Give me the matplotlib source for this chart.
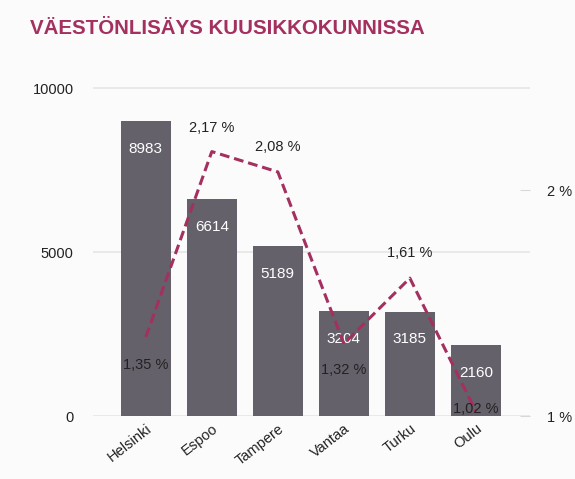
import matplotlib.pyplot as plt

plt.rcParams['font.family'] = ['Liberation Sans Narrow', 'Liberation Sans', 'DejaVu Sans']

cities = ['Helsinki', 'Espoo', 'Tampere', 'Vantaa', 'Turku', 'Oulu']
growth = [8983, 6614, 5189, 3204, 3185, 2160]
growth_pct = [1.35, 2.17, 2.08, 1.32, 1.61, 1.02]
pct_labels = ['1,35 %', '2,17 %', '2,08 %', '1,32 %', '1,61 %', '1,02 %']
pct_offsets = [-20, 17, 18, -19, 18, 2]

bar_color = '#64616b'
line_color = '#a3305f'
bg = '#fbfbfb'

fig = plt.figure(figsize=(5.75, 4.79), dpi=100, facecolor=bg)
ax = fig.add_axes([93 / 575, 1 - 416 / 479, (530 - 93) / 575, 340 / 479])
ax.set_facecolor(bg)

x = range(len(cities))
ax.bar(x, growth, width=0.75, color=bar_color, zorder=2)
for xi, v in zip(x, growth):
    ax.annotate(str(v), (xi, v), xytext=(0, -20), textcoords='offset points',
                ha='center', va='center', color='white', fontsize=11, zorder=4)

ax.set_xlim(-0.8, 5.82)
ax.set_ylim(0, 10366)
ax.set_yticks([0, 5000, 10000])
ax.grid(axis='y', color='#e6e6e6', linewidth=1.2, zorder=0)
for s in ax.spines.values():
    s.set_visible(False)
ax.tick_params(axis='y', length=0, pad=14, labelsize=10.5, labelcolor='#222222')
ax.tick_params(axis='x', length=0, pad=4, labelsize=10.5, labelcolor='#222222')
ax.set_xticks(list(x))
ax.set_xticklabels(cities, rotation=38, ha='right', rotation_mode='anchor')

ax2 = ax.twinx()
ax2.plot(list(x), growth_pct, color=line_color, linestyle=(0, (3.2, 1.6)), linewidth=2.2, zorder=3)
ax2.set_ylim(1.0, 1 + 340 / 226)
ax2.set_yticks([1, 2])
ax2.set_yticklabels(['1 %', '2 %'])
for s in ax2.spines.values():
    s.set_visible(False)
ax2.tick_params(axis='y', length=7, direction='in', color='#d8d8d8', pad=12,
                labelsize=10.5, labelcolor='#222222')
for xi, v, lab, off in zip(x, growth_pct, pct_labels, pct_offsets):
    ax2.annotate(lab, (xi, v), xytext=(0, off), textcoords='offset points',
                 ha='center', va='center', color='#222222', fontsize=10.5)

fig.text(30 / 575, 1 - 28 / 479, 'VÄESTÖNLISÄYS KUUSIKKOKUNNISSA', color=line_color,
         fontsize=14.8, fontweight='bold', va='center', ha='left')

fig.savefig('out.png', dpi=100, facecolor=bg)
